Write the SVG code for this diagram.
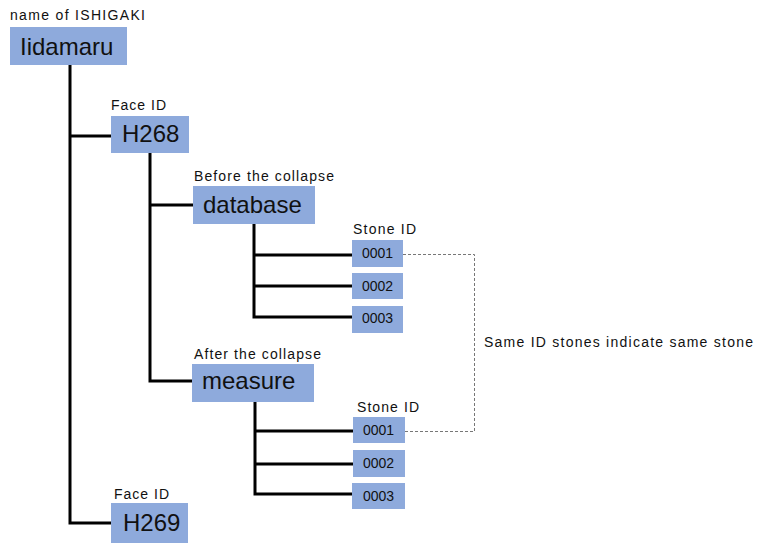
<svg xmlns="http://www.w3.org/2000/svg" width="777" height="553" viewBox="0 0 777 553">
<style>
.box{fill:#8eaadc}
.big{font-family:"Liberation Sans",Arial,sans-serif;font-size:24px;fill:#111}
.num{font-family:"Liberation Sans",Arial,sans-serif;font-size:14px;fill:#111}
.lbl{font-family:"Liberation Sans",Arial,sans-serif;font-size:14px;fill:#111}
.ln{stroke:#000;stroke-width:3;fill:none}
.dash{stroke:#777;stroke-width:1;fill:none;stroke-dasharray:3 2}
</style>
<rect width="777" height="553" fill="#fff"/>
<g id="connectors">
<polyline class="ln" points="70,65 70,523 111,523"/>
<line class="ln" x1="70" y1="136" x2="111" y2="136"/>
<polyline class="ln" points="150,153 150,381 192,381"/>
<line class="ln" x1="150" y1="205" x2="193" y2="205"/>
<polyline class="ln" points="254,224 254,317 352,317"/>
<line class="ln" x1="254" y1="255" x2="352" y2="255"/>
<line class="ln" x1="254" y1="286" x2="352" y2="286"/>
<polyline class="ln" points="255,402 255,494 352,494"/>
<line class="ln" x1="255" y1="431" x2="353" y2="431"/>
<line class="ln" x1="255" y1="464" x2="353" y2="464"/>
<polyline class="dash" points="403,254.5 474.5,254.5 474.5,431.5 405,431.5"/>
</g>
<g id="root">
<text class="lbl" x="10" y="20" textLength="135" lengthAdjust="spacing">name of ISHIGAKI</text>
<rect class="box" x="10" y="27" width="117" height="38"/>
<text class="big" x="20" y="55">Iidamaru</text>
</g>
<g id="h268">
<text class="lbl" x="111" y="110" textLength="55" lengthAdjust="spacing">Face ID</text>
<rect class="box" x="111" y="116" width="78" height="37"/>
<text class="big" x="122" y="142">H268</text>
</g>
<g id="database">
<text class="lbl" x="194" y="181" textLength="140" lengthAdjust="spacing">Before the collapse</text>
<rect class="box" x="193" y="186" width="122" height="38"/>
<text class="big" x="203" y="213">database</text>
</g>
<g id="db-stones">
<text class="lbl" x="353" y="234" textLength="63" lengthAdjust="spacing">Stone ID</text>
</g>
<g id="db-0001">
<rect class="box" x="352" y="240" width="51" height="27"/>
<text class="num" x="362" y="258">0001</text>
</g>
<g id="db-0002">
<rect class="box" x="352" y="273" width="51" height="26"/>
<text class="num" x="362" y="291">0002</text>
</g>
<g id="db-0003">
<rect class="box" x="352" y="306" width="51" height="27"/>
<text class="num" x="362" y="323">0003</text>
</g>
<g id="measure">
<text class="lbl" x="194" y="359" textLength="127" lengthAdjust="spacing">After the collapse</text>
<rect class="box" x="192" y="364" width="122" height="38"/>
<text class="big" x="202" y="389">measure</text>
</g>
<g id="m-stones">
<text class="lbl" x="357" y="412" textLength="62" lengthAdjust="spacing">Stone ID</text>
</g>
<g id="m-0001">
<rect class="box" x="353" y="417" width="52" height="26"/>
<text class="num" x="363" y="435">0001</text>
</g>
<g id="m-0002">
<rect class="box" x="353" y="450" width="52" height="27"/>
<text class="num" x="363" y="468">0002</text>
</g>
<g id="m-0003">
<rect class="box" x="352" y="483" width="53" height="26"/>
<text class="num" x="363" y="501">0003</text>
</g>
<g id="h269">
<text class="lbl" x="114" y="499" textLength="55" lengthAdjust="spacing">Face ID</text>
<rect class="box" x="111" y="503" width="77" height="40"/>
<text class="big" x="123" y="531">H269</text>
</g>
<g id="note">
<text class="lbl" x="484" y="347" font-size="15" textLength="269" lengthAdjust="spacing">Same ID stones indicate same stone</text>
</g>
</svg>
